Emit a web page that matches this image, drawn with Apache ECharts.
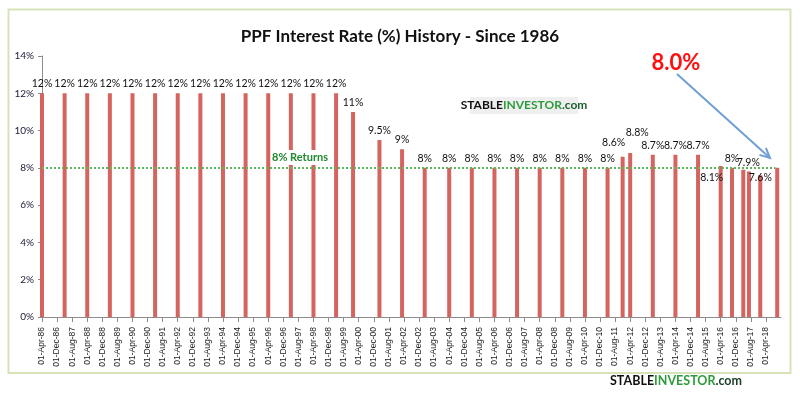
<!DOCTYPE html>
<html>
<head>
<meta charset="utf-8">
<script src="https://cdn.jsdelivr.net/npm/echarts@6/dist/echarts.min.js"></script>
<style>html,body{margin:0;padding:0;background:#fff}#c{width:800px;height:396px}</style>
</head>
<body>
<div id="c"></div>
<script>
// ---- Data ----
const rateDates = ['1986-04','1987-04','1988-04','1989-04','1990-04','1991-04','1992-04','1993-04','1994-04','1995-04','1996-04','1997-04','1998-04','1999-04',
  '2000-01','2001-03','2002-03',
  '2003-03','2004-04','2005-04','2006-04','2007-04','2008-04','2009-04','2010-04','2011-04',
  '2011-12','2012-04','2013-04','2014-04','2015-04',
  '2016-04','2016-10','2017-04','2017-07','2018-01','2018-10'];
const rateValues = [12,12,12,12,12,12,12,12,12,12,12,12,12,12,
  11,9.5,9,
  8,8,8,8,8,8,8,8,8,
  8.6,8.8,8.7,8.7,8.7,
  8.1,8.0,7.9,7.8,7.6,8.0];
const barLabels = ['12%','12%','12%','12%','12%','12%','12%','12%','12%','12%','12%','12%','12%','12%',
  '11%','9.5%','9%',
  '8%','8%','8%','8%','8%','8%','8%','8%','8%',
  '8.6%','8.8%','8.7%','8.7%','8.7%',
  '8.1%','8%','7.9%','','7.6%',''];
const monthNames = ['Jan','Feb','Mar','Apr','May','Jun','Jul','Aug','Sep','Oct','Nov','Dec'];
const axisStart = {year:1986, month:4};
const axisMaxMonths = 392;
const tickStep = 8;
const lastTick = 384;
const referenceRate = 8;
const latestRateText = '8.0%';

// ---- helpers ----
function toMonthIndex(s){
  const [y,m] = s.split('-').map(Number);
  return (y-axisStart.year)*12 + (m-axisStart.month);
}
function monthLabel(idx){
  const total = axisStart.month - 1 + idx;
  const y = axisStart.year + Math.floor(total/12);
  const m = total % 12;
  return '01-' + monthNames[m] + '-' + String(y % 100).padStart(2,'0');
}
const labelNudge = {26:[-9,-5], 27:[7,-11], 31:[-9,21], 33:[5,2], 35:[0,12]};

const seriesData = rateDates.map((d,i)=>{
  const item = {value:[toMonthIndex(d), rateValues[i]]};
  const lab = {show: barLabels[i] !== '', formatter: barLabels[i]};
  if (labelNudge[i]) lab.offset = labelNudge[i];
  item.label = lab;
  return item;
});

const chart = echarts.init(document.getElementById('c'), null, {renderer:'canvas'});

// arrow geometry (annotation)
const ax1=[677,74], ax2=[770,158];
const ang = Math.atan2(ax2[1]-ax1[1], ax2[0]-ax1[0]);
const headLen = 11, headAng = Math.PI/7;
const h1 = [ax2[0]-headLen*Math.cos(ang-headAng), ax2[1]-headLen*Math.sin(ang-headAng)];
const h2 = [ax2[0]-headLen*Math.cos(ang+headAng), ax2[1]-headLen*Math.sin(ang+headAng)];

chart.setOption({
  animation:false,
  backgroundColor:'#ffffff',
  title:{
    text:'PPF Interest Rate (%) History - Since 1986',
    left:'center', top:23,
    textStyle:{fontFamily:'Lato', fontWeight:'bold', fontSize:17, color:'#111'}
  },
  grid:{left:42, right:19, top:56, bottom:79, containLabel:false},
  xAxis:{
    type:'value', min:0, max:axisMaxMonths, interval:tickStep,
    axisLine:{show:true, lineStyle:{color:'#8c8c8c', width:1}},
    axisTick:{show:true, length:5, lineStyle:{color:'#8c8c8c'}},
    splitLine:{show:false},
    axisLabel:{
      rotate:90, fontSize:8.5, fontFamily:'Liberation Sans', color:'#222', margin:10,
      showMaxLabel:false,
      formatter:function(v){ return (v % tickStep === 0 && v <= lastTick) ? monthLabel(v) : ''; }
    }
  },
  yAxis:{
    type:'value', min:0, max:14, interval:2,
    axisLine:{show:true, lineStyle:{color:'#8c8c8c', width:1}},
    axisTick:{show:true, length:4, lineStyle:{color:'#8c8c8c'}},
    splitLine:{show:false},
    axisLabel:{formatter:'{value}%', fontSize:10, fontFamily:'Lato', color:'#1a1a33', margin:8}
  },
  series:[{
    type:'bar',
    data:seriesData,
    barWidth:4,
    clip:false,
    itemStyle:{color:'#d4645f'},
    label:{show:true, position:'top', distance:4, fontSize:10.5, fontFamily:'Lato', color:'#111'},
    markLine:{
      silent:true, symbol:'none', label:{show:false},
      lineStyle:{color:'#5cb85c', type:[2,2], width:2},
      data:[[{coord:[0,referenceRate]},{coord:[389,referenceRate]}]]
    }
  }],
  graphic:[
    {type:'rect', z:-10, shape:{x:8.5, y:9.5, width:782, height:363.5}, style:{fill:'none', stroke:'#d6e3b9', lineWidth:2}},
    {type:'text', z:100, left:271, top:150,
      style:{text:'8% Returns', fill:'#1f8a2f', font:'bold 11px Lato', backgroundColor:'#ffffff', padding:[2,1,2,1]}},
    {type:'rect', z:100, shape:{x:470, y:97, width:108, height:17}, style:{fill:'#efefef'}},
    {type:'text', z:101, x:524, y:105.5,
      style:{text:'{a|STABLE}{b|INVESTOR}{c|.com}', align:'center', verticalAlign:'middle',
        rich:{a:{fill:'#111', font:'bold 12px Lato'}, b:{fill:'#2e9b3c', font:'bold 12px Lato'}, c:{fill:'#1d5e30', font:'bold 12px Lato'}}}},
    {type:'text', z:101, x:676, y:381,
      style:{text:'{a|STABLE}{b|INVESTOR}{c|.com}', align:'center', verticalAlign:'middle',
        rich:{a:{fill:'#111', font:'bold 12.5px Lato'}, b:{fill:'#2e9b3c', font:'bold 12.5px Lato'}, c:{fill:'#1a3d26', font:'bold 12.5px Lato'}}}},
    {type:'text', z:101, x:676, y:63,
      style:{text:latestRateText, align:'center', verticalAlign:'middle', fill:'#ff1010', font:'bold 22px Lato'}},
    {type:'line', z:101, shape:{x1:ax1[0], y1:ax1[1], x2:ax2[0], y2:ax2[1]}, style:{stroke:'#6f9fd4', lineWidth:2}},
    {type:'polyline', z:101, shape:{points:[h1, ax2, h2]}, style:{stroke:'#6f9fd4', lineWidth:2, fill:'none'}}
  ]
});
</script>
</body>
</html>
